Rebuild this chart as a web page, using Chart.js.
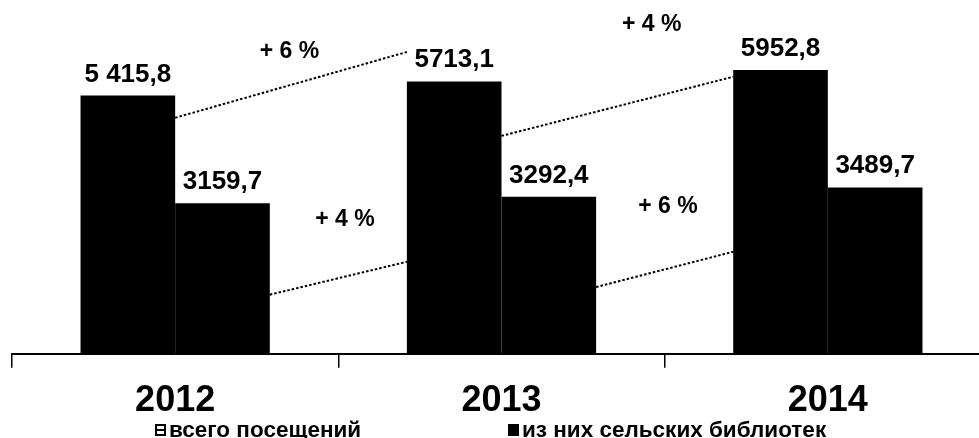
<!DOCTYPE html>
<html>
<head>
<meta charset="utf-8">
<script src="https://cdn.jsdelivr.net/npm/chart.js@4"></script>
<style>
  html, body { margin: 0; padding: 0; background: #fff; overflow: hidden; }
  #wrap { position: relative; width: 992px; height: 438px; }
</style>
</head>
<body>
<div id="wrap"><canvas id="c"></canvas></div>
<script>
const categories = ['2012', '2013', '2014'];
const seriesNames = ['всего посещений', 'из них сельских библиотек'];
const totalVisits = [5415.8, 5713.1, 5952.8];
const ruralVisits = [3159.7, 3292.4, 3489.7];
const totalLabels = ['5 415,8', '5713,1', '5952,8'];
const ruralLabels = ['3159,7', '3292,4', '3489,7'];

// growth annotations: text, position as (category index, value)
const growthTexts = ['+ 6 %', '+ 4 %', '+ 4 %', '+ 6 %'];
const growthAtIndex = [0.35, 1.46, 0.52, 1.51];
const growthAtValue = [6330, 6900, 2810, 3080];

// dotted connectors: from [dataset, category] right edge at value -> to [dataset, category] left edge at value
const connFrom = [[0, 0], [0, 1], [1, 0], [1, 1]];
const connTo = [[0, 1], [0, 2], [0, 1], [0, 2]];
const connFromValue = [4950, 4570, 1240, 1400];
const connToValue = [6330, 5810, 1930, 2140];

const FONT = '"Liberation Sans", Arial, sans-serif';

const annotPlugin = {
  id: 'annot',
  beforeDatasetsDraw(chart) {
    const ctx = chart.ctx;
    const y = chart.scales.y;
    ctx.save();
    ctx.strokeStyle = '#000';
    ctx.lineWidth = 2;
    ctx.setLineDash([2.5, 2]);
    for (let i = 0; i < connFrom.length; i++) {
      const a = chart.getDatasetMeta(connFrom[i][0]).data[connFrom[i][1]];
      const b = chart.getDatasetMeta(connTo[i][0]).data[connTo[i][1]];
      ctx.beginPath();
      ctx.moveTo(a.x + a.width / 2, y.getPixelForValue(connFromValue[i]));
      ctx.lineTo(b.x - b.width / 2, y.getPixelForValue(connToValue[i]));
      ctx.stroke();
    }
    ctx.restore();
  },
  afterDatasetsDraw(chart) {
    const ctx = chart.ctx;
    const x = chart.scales.x, y = chart.scales.y;
    ctx.save();
    ctx.fillStyle = '#000';
    ctx.textAlign = 'center';
    ctx.textBaseline = 'alphabetic';
    ctx.font = 'bold 26px ' + FONT;
    const lbls = [totalLabels, ruralLabels];
    [0, 1].forEach(d => {
      chart.getDatasetMeta(d).data.forEach((bar, i) => {
        ctx.fillText(lbls[d][i], bar.x, bar.y - 14);
      });
    });
    ctx.font = 'bold 23px ' + FONT;
    ctx.textBaseline = 'middle';
    for (let i = 0; i < growthTexts.length; i++) {
      ctx.fillText(growthTexts[i], x.getPixelForValue(growthAtIndex[i]), y.getPixelForValue(growthAtValue[i]));
    }
    // legend
    ctx.font = 'bold 22.5px ' + FONT;
    ctx.textAlign = 'left';
    const legendX = [155, 508];
    const ly = 430;
    seriesNames.forEach((name, i) => {
      if (i === 0) {
        ctx.fillStyle = '#fff';
        ctx.fillRect(legendX[i], ly - 6, 11, 12);
        ctx.strokeStyle = '#000';
        ctx.lineWidth = 2;
        ctx.strokeRect(legendX[i] + 1, ly - 5, 9, 10);
        ctx.fillStyle = '#000';
        ctx.fillRect(legendX[i] + 2, ly - 1, 7, 2);
      } else {
        ctx.fillStyle = '#000';
        ctx.fillRect(legendX[i], ly - 6, 11, 12);
      }
      ctx.fillStyle = '#000';
      ctx.fillText(name, legendX[i] + 14, ly + 1);
    });
    ctx.restore();
  }
};

new Chart(document.getElementById('c'), {
  type: 'bar',
  data: {
    labels: categories,
    datasets: [
      { label: seriesNames[0], data: totalVisits, backgroundColor: '#000', borderWidth: 0 },
      { label: seriesNames[1], data: ruralVisits, backgroundColor: '#000', borderWidth: 0 }
    ]
  },
  options: {
    responsive: true,
    maintainAspectRatio: false,
    animation: false,
    layout: { padding: { left: 12, right: 1, top: 0, bottom: 3 } },
    plugins: { legend: { display: false }, tooltip: { enabled: false } },
    datasets: { bar: { categoryPercentage: 0.58, barPercentage: 1 } },
    scales: {
      x: {
        offset: true,
        border: { display: true, color: '#000', width: 2 },
        grid: { display: true, offset: true, drawOnChartArea: false, drawTicks: true, tickLength: 14, color: '#000', lineWidth: 1.5 },
        ticks: { color: '#000', padding: 12, font: { family: FONT, size: 36, weight: 'bold' } }
      },
      y: {
        display: false,
        min: 0,
        max: 7420
      }
    }
  },
  plugins: [annotPlugin]
});
</script>
</body>
</html>
